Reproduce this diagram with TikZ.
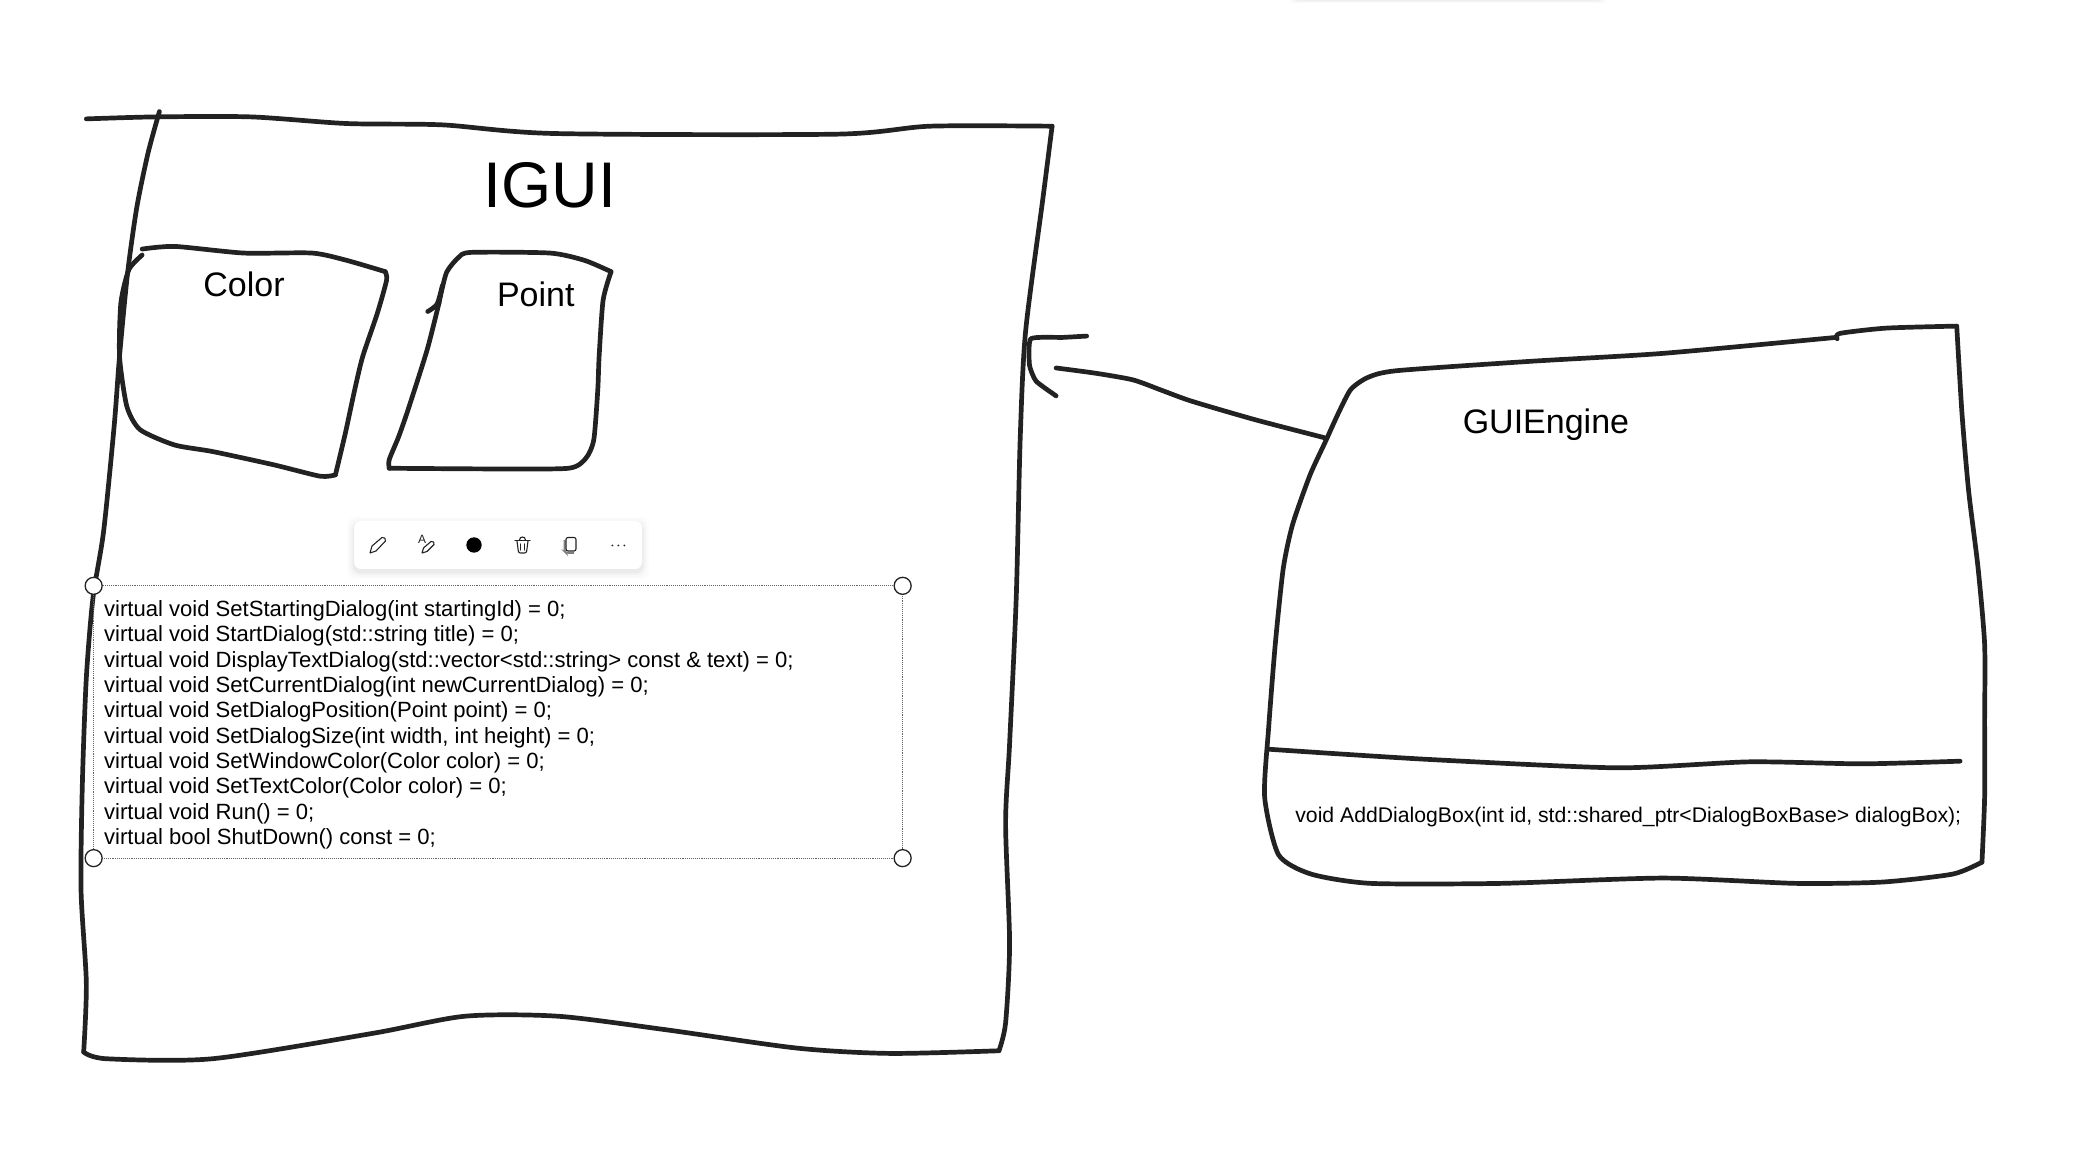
\documentclass[tikz,border=0pt]{standalone}
\usepackage{fontspec}
\setmainfont{Liberation Sans}
\definecolor{ink}{HTML}{222222}
\tikzset{
  sketch/.style={draw=ink,line width=4.7pt,line cap=round,line join=round},
  label34/.style={inner sep=0pt,anchor=base west,text=black,font=\fontsize{34}{38}\selectfont},
  codetext/.style={inner sep=0pt,anchor=north west,align=left,text=black,font=\fontsize{22.05}{25.3}\selectfont},
  handle/.style={circle,draw=ink,fill=white,line width=1.3pt,minimum size=17pt,inner sep=0pt},
  icon/.style={draw=ink,line width=1.1pt,line join=round,line cap=round}
}
\begin{document}
\begin{tikzpicture}[x=1.3284pt,y=-1.3284pt]
\useasboundingbox (0,0) rectangle (1568.06,870.2);
\fill[white] (0,0) rectangle (1568.06,870.2);
% faint shadow at the top edge
\foreach \o/\e in {.02/6,.02/4,.025/2}{
  \fill[black,opacity=\o] (978-\e,-5) rectangle (1202+\e,\e*.4);
}
% IGUI box
\draw[sketch] plot[smooth,tension=.45] coordinates {
 (120,84) (111.5,115) (103,156) (96,206) (90,268) (86,320) (78,400) (70,450) (65,510) (62,590) (61,670) (65,740) (63,792)};
\draw[sketch] plot[smooth,tension=.45] coordinates {
 (63,792) (80,797) (160,797) (280,778) (350,765) (420,765) (500,775) (600,789) (670,793) (752,791)};
\draw[sketch] plot[smooth,tension=.45] coordinates {
 (752,791) (757,770) (760,710) (757,620) (760,560) (765,450) (768,330) (772,250) (785,150) (792,95)};
\draw[sketch] plot[smooth,tension=.45] coordinates {
 (792,95) (700,95) (630,101) (417,100.5) (333,94) (261,93) (189,88) (117,88) (65,89.5)};
\node[inner sep=0pt,anchor=base west,font=\fontsize{64.5}{70}\selectfont] (igui) at (364,156) {IGUI};
% Color box
\draw[sketch] plot[smooth,tension=.4] coordinates {
 (107,187.5) (131.5,185.5) (183.5,190.5) (235,190.5) (261,196) (290,204.5)};
\draw[sketch] plot[smooth,tension=.4] coordinates {
 (290,204.5) (291,211) (284,236) (273,268.5) (267,293.5) (260,326) (252.5,357.5)};
\draw[sketch] plot[smooth,tension=.4] coordinates {
 (252.5,357.5) (241,358.5) (206.5,350) (160.5,340) (131.5,335) (105.5,323.5) (95.5,306) (90,268.5) (91,228) (97,203) (107,192)};
\node[label34] (color) at (153,223) {Color};
% Point box
\draw[sketch] plot[smooth,tension=.4] coordinates {(322,234.5) (329,229) (333,215)};
\draw[sketch] plot[smooth,tension=.4] coordinates {
 (330.5,228) (336,205.5) (345,194) (354.5,190) (414,190.5) (440,196) (460,204.5)};
\draw[sketch] plot[smooth,tension=.4] coordinates {
 (460,204.5) (454,226) (451,268.5) (450,293.5) (447,331) (441,345) (428,352.5) (370,353) (293,352.5)};
\draw[sketch] plot[smooth,tension=.4] coordinates {
 (293,352.5) (293,346) (300,329) (307,309) (321.5,263.5) (330.5,228)};
\node[label34] (point) at (374,231) {Point};
% Toolbar
\begin{scope}[x=1pt,y=-1pt]
\foreach \o/\e in {.012/7,.015/5,.02/3,.03/1.5}{
  \fill[black,opacity=\o,rounded corners=8pt] (354-\e,521-\e+3) rectangle (642+\e,569+\e+3);
}
\fill[white,rounded corners=7pt] (354,521) rectangle (642,569);
% pencil
\draw[icon] (370,553) -- (372,546) -- (382,537.5) .. controls (384,536.5) and (386.5,539) .. (385.5,541) -- (376,551) -- cycle;
% A and pen
\node[inner sep=0pt,font=\fontsize{12}{12}\selectfont,text=ink] (aglyph) at (422,539.5) {A};
\draw[icon] (422,553) -- (423.5,548) -- (431,541.5) .. controls (433,540.5) and (435,543) .. (434,544.5) -- (427,551.5) -- cycle;
% dot
\fill[black] (474,545) circle (7.7pt);
% trash
\draw[icon] (515,540.5) -- (530,540.5);
\draw[icon] (519.5,540) .. controls (519.5,536) and (525.5,536) .. (525.5,540);
\draw[icon] (517,541) -- (518.3,551) .. controls (518.5,552.5) and (519.5,553) .. (520.5,553) -- (524.5,553) .. controls (525.5,553) and (526.5,552.5) .. (526.7,551) -- (528,541);
\draw[icon] (520.8,544) -- (520.8,550) (524.2,544) -- (524.2,550);
% copy
\draw[draw=gray,line width=1.6pt,rounded corners=2pt] (564.5,540) -- (564.5,551.5) -- (566,553) -- (574,553);
\draw[icon,rounded corners=2pt] (566,537.5) rectangle (576,551);
% dots
\foreach \x in {612.3,618.3,624.3}{ \fill[ink] (\x,545.5) circle (1pt); }
\end{scope}
% Selection frame
\coordinate (stl) at (70.5,441);
\coordinate (str) at (679.5,441);
\coordinate (sbl) at (70.5,646);
\coordinate (sbr) at (679.5,646);
\draw[gray!80!black,line width=.9pt,densely dotted] (stl) -- (str) -- (sbr) -- (sbl) -- cycle;
\node[handle] (h1) at (stl) {};
\node[handle] (h2) at (str) {};
\node[handle] (h3) at (sbl) {};
\node[handle] (h4) at (sbr) {};
\node[codetext] (code) at (78.3,452) {virtual void SetStartingDialog(int startingId) = 0;\\
virtual void StartDialog(std::string title) = 0;\\
virtual void DisplayTextDialog(std::vector<std::string> const \& text) = 0;\\
virtual void SetCurrentDialog(int newCurrentDialog) = 0;\\
virtual void SetDialogPosition(Point point) = 0;\\
virtual void SetDialogSize(int width, int height) = 0;\\
virtual void SetWindowColor(Color color) = 0;\\
virtual void SetTextColor(Color color) = 0;\\
virtual void Run() = 0;\\
virtual bool ShutDown() const = 0;};
% GUIEngine box
\draw[sketch] plot[smooth,tension=.4] coordinates {
 (1383,255) (1385,251) (1420,247) (1473,245.5)};
\draw[sketch] plot[smooth,tension=.4] coordinates {
 (1473,245.5) (1477,312) (1482,370) (1489,427) (1494,485) (1494,543) (1494,600) (1492,649)};
\draw[sketch] plot[smooth,tension=.4] coordinates {
 (1492,649) (1470,658) (1417,664) (1352,665) (1252,661) (1130,665) (1032,665) (987,658) (962.5,643.5) (952,600) (955,548)
 (960,485) (966,428) (973,395) (986,358) (997.5,333) (1008,310) (1017,293) (1030,284) (1052,279) (1152,272) (1252,266) (1382,254)};
\draw[sketch] plot[smooth,tension=.4] coordinates {
 (955,564) (1072,571.5) (1217,578) (1317,573.5) (1402,575) (1475.5,573)};
\node[label34] (engine) at (1101,326) {GUIEngine};
\node[inner sep=0pt,anchor=base west,font=\fontsize{21.2}{24}\selectfont] (add) at (975,619) {void AddDialogBox(int id, std::shared\_ptr<DialogBoxBase> dialogBox);};
% Arrow from GUIEngine to IGUI
\coordinate (tailend) at (997,329.5);
\coordinate (tip) at (795,277);
\draw[sketch] plot[smooth,tension=.4] coordinates {(tailend) (945,316) (897,302) (875,294) (853,286) (825,281) (tip)};
\draw[sketch] plot[smooth,tension=.3] coordinates {(818,253) (800,254) (776,255) (775,275) (780,287) (795,298)};
\end{tikzpicture}
\end{document}
